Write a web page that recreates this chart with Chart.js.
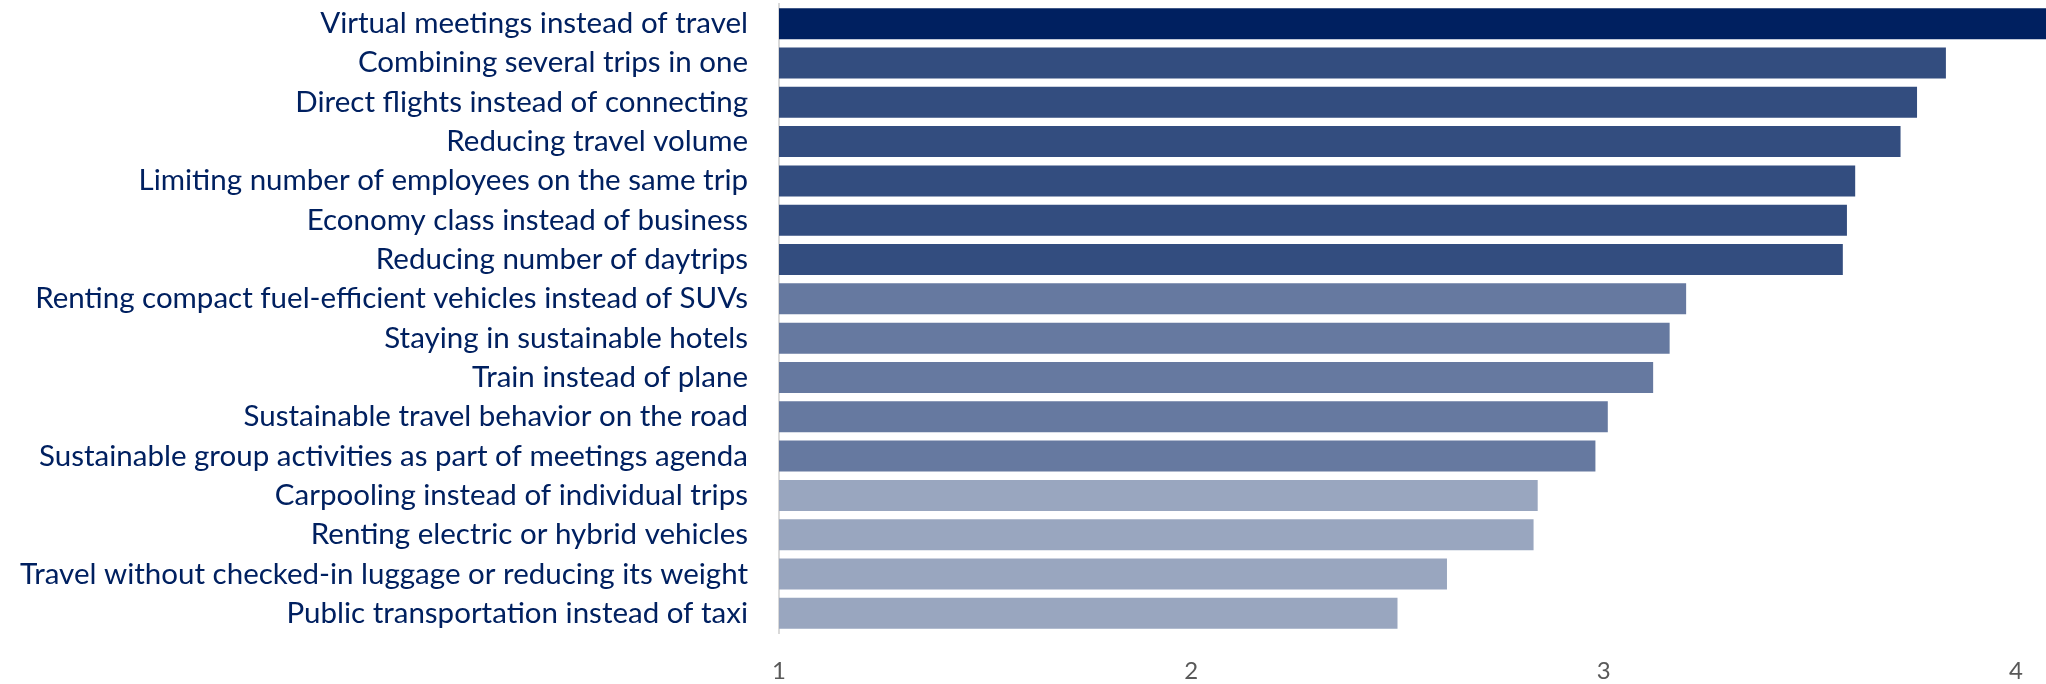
<!DOCTYPE html>
<html>
<head>
<meta charset="utf-8">
<script src="https://cdn.jsdelivr.net/npm/chart.js@4/dist/chart.umd.min.js"></script>
<style>
  html, body { margin: 0; padding: 0; background: #fff; }
  #wrap { width: 2046px; height: 684px; }
</style>
</head>
<body>
<div id="wrap"><canvas id="chart-bars"></canvas></div>
<script>
const CATEGORIES = [
	"Virtual meetings instead of travel",
	"Combining several trips in one",
	"Direct flights instead of connecting",
	"Reducing travel volume",
	"Limiting number of employees on the same trip",
	"Economy class instead of business",
	"Reducing number of daytrips",
	"Renting compact fuel-efficient vehicles instead of SUVs",
	"Staying in sustainable hotels",
	"Train instead of plane",
	"Sustainable travel behavior on the road",
	"Sustainable group activities as part of meetings agenda",
	"Carpooling instead of individual trips",
	"Renting electric or hybrid vehicles",
	"Travel without checked-in luggage or reducing its weight",
	"Public transportation instead of taxi",
];
const VALUES = [4.1, 3.83, 3.76, 3.72, 3.61, 3.59, 3.58, 3.2, 3.16, 3.12, 3.01, 2.98, 2.84, 2.83, 2.62, 2.5];
const X_TICKS = [1, 2, 3, 4];

// shade groups: top item, then three tiers
const SHADES = ["#002060", "#334d7f", "#6679a0", "#99a6bf"];
const barColors = VALUES.map((v, i) => (i === 0 ? SHADES[0] : i < 7 ? SHADES[1] : i < 12 ? SHADES[2] : SHADES[3]));

const WRAPPER = document.getElementById("chart-bars");

const DATA = {
	labels: CATEGORIES,
	datasets: [
		{
			data: VALUES,
			base: X_TICKS[0],
			backgroundColor: barColors,
			borderWidth: 0,
			barPercentage: 1,
			categoryPercentage: 0.79,
			clip: false,
		},
	],
};

// Chart config
const CONFIG = {
	type: "bar",
	data: DATA,
	options: {
		indexAxis: "y",
		responsive: true,
		maintainAspectRatio: false,
		animation: false,
		layout: {
			padding: { top: 4, right: 30, bottom: 0, left: 0 },
		},
		scales: {
			x: {
				min: X_TICKS[0],
				max: X_TICKS[X_TICKS.length - 1],
				grid: { display: false },
				border: { display: false },
				afterBuildTicks: (axis) => {
					axis.ticks = X_TICKS.map((v) => ({ value: v }));
				},
				afterFit: (axis) => {
					axis.height = 51;
					axis.paddingLeft = 0;
					axis.paddingRight = 0;
				},
				ticks: {
					padding: 16,
					maxRotation: 0,
					color: "#595959",
					font: { family: "Lato", size: 24 },
				},
			},
			y: {
				grid: { display: false },
				border: { display: true, color: "#d9d9d9", width: 2 },
				afterFit: (axis) => {
					axis.width = 779;
					// no extra room above / below for label halves
					axis.paddingTop = 0;
					axis.paddingBottom = 0;
				},
				ticks: {
					autoSkip: false,
					padding: 23,
					color: "#002060",
					font: { family: "Lato", size: 29.5 },
				},
			},
		},
		plugins: {
			legend: { display: false },
			title: { display: false },
			tooltip: { enabled: false },
		},
	},
};

// Init chart
if (WRAPPER) {
	new Chart(WRAPPER, CONFIG);
}
</script>
</body>
</html>
